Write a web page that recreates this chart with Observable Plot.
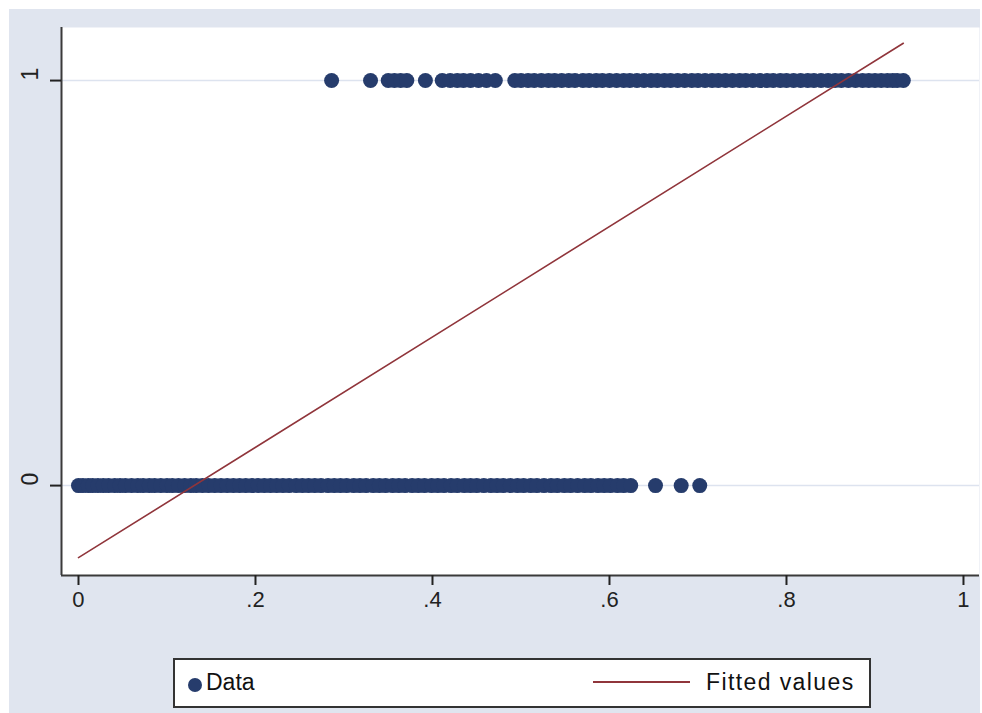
<!DOCTYPE html>
<html>
<head>
<meta charset="utf-8">
<script src="https://cdn.jsdelivr.net/npm/d3@7"></script>
<script src="https://cdn.jsdelivr.net/npm/@observablehq/plot@0.6"></script>
<style>
  html, body { margin: 0; padding: 0; background: #ffffff; }
  #page { position: relative; width: 982px; height: 713px; overflow: hidden; background: #ffffff; font-family: "Liberation Sans", Arial, sans-serif; }
  #bg { position: absolute; left: 9px; top: 9px; width: 971px; height: 704px; background: #e0e5ef; }
  #chart { position: absolute; left: 0; top: 0; }
  #legend { position: absolute; left: 173px; top: 658px; width: 694px; height: 46px; background: #ffffff; border: 2px solid #333333; }
  #legend .dot { position: absolute; left: 13px; top: 18px; width: 14px; height: 14px; border-radius: 50%; background: #263c6c; }
  #legend .lbl { position: absolute; top: 8px; font-size: 23px; color: #111111; line-height: 28px; white-space: nowrap; }
  #legend .ln { position: absolute; left: 418px; top: 21px; width: 97px; height: 2px; background: #90353b; }
</style>
</head>
<body>
<div id="page">
  <div id="bg"></div>
  <div id="chart"></div>
  <div id="legend">
    <div class="dot"></div>
    <div class="lbl" id="lblData" style="left:31px;"></div>
    <div class="ln"></div>
    <div class="lbl" id="lblFit" style="left:531px; letter-spacing:1.4px;"></div>
  </div>
</div>
<script>
// ---- data ----
const xTicks = [0, 0.2, 0.4, 0.6, 0.8, 1];
const xTickLabels = ["0", ".2", ".4", ".6", ".8", "1"];
const yTicks = [0, 1];
const yTickLabels = ["0", "1"];
const seriesNames = ["Data", "Fitted values"];

// observations with outcome = 0 (x values)
const xOutcome0 = [0, 0.005, 0.011, 0.016, 0.022, 0.028, 0.034, 0.041, 0.047, 0.053, 0.06, 0.067, 0.073, 0.08, 0.086, 0.093, 0.1, 0.106, 0.113, 0.12, 0.127, 0.133, 0.14, 0.147, 0.154, 0.161, 0.168, 0.175, 0.182, 0.189, 0.196, 0.203, 0.21, 0.217, 0.224, 0.231, 0.238, 0.246, 0.253, 0.26, 0.267, 0.274, 0.282, 0.289, 0.296, 0.303, 0.311, 0.318, 0.325, 0.333, 0.34, 0.347, 0.355, 0.362, 0.369, 0.377, 0.384, 0.391, 0.399, 0.406, 0.413, 0.421, 0.428, 0.436, 0.443, 0.45, 0.458, 0.466, 0.473, 0.48, 0.488, 0.496, 0.503, 0.511, 0.518, 0.526, 0.534, 0.541, 0.549, 0.556, 0.564, 0.572, 0.579, 0.587, 0.594, 0.601, 0.609, 0.616, 0.624, 0.652, 0.681, 0.702];

// observations with outcome = 1 (x values)
const xOutcome1 = [0.286, 0.330, 0.350, 0.357, 0.364, 0.371, 0.392, 0.411, 0.420, 0.428, 0.435, 0.443, 0.452, 0.461, 0.471, 0.493, 0.50, 0.508, 0.515, 0.523, 0.531, 0.538, 0.546, 0.554, 0.561, 0.57, 0.577, 0.585, 0.592, 0.6, 0.608, 0.616, 0.623, 0.631, 0.639, 0.647, 0.654, 0.662, 0.669, 0.677, 0.685, 0.693, 0.7, 0.708, 0.716, 0.723, 0.731, 0.739, 0.747, 0.754, 0.762, 0.77, 0.778, 0.785, 0.793, 0.8, 0.808, 0.816, 0.824, 0.831, 0.839, 0.847, 0.855, 0.862, 0.87, 0.878, 0.886, 0.893, 0.9, 0.907, 0.914, 0.92, 0.925, 0.932];

// fitted (linear probability) values at the extremes of x
const fitX = [0, 0.932];
const fitY = [-0.178, 1.092];

// ---- build ----
const points = [
  ...xOutcome0.map(x => ({x, y: 0})),
  ...xOutcome1.map(x => ({x, y: 1}))
];
const fit = fitX.map((x, i) => ({x, y: fitY[i]}));
const xDomain = [-0.0192, 1.0181];
const yDomain = [-0.222, 1.131];

const labelFor = (ticks, labels) => d => {
  const i = ticks.findIndex(t => Math.abs(t - d) < 1e-9);
  return i >= 0 ? labels[i] : "";
};

const chart = Plot.plot({
  width: 982,
  height: 640,
  marginLeft: 61,
  marginRight: 3,
  marginTop: 27,
  marginBottom: 65,
  x: {domain: xDomain},
  y: {domain: yDomain},
  style: {background: "transparent", fontFamily: "'Liberation Sans', Arial, sans-serif", color: "#222"},
  marks: [
    Plot.frame({fill: "#ffffff", stroke: null}),
    Plot.ruleY(yTicks, {stroke: "#dde3ef", strokeWidth: 1.5}),
    Plot.dot(points, {x: "x", y: "y", r: 7.5, fill: "#263c6c", stroke: null}),
    Plot.line(fit, {x: "x", y: "y", stroke: "#90353b", strokeWidth: 1.6}),
    Plot.ruleX([xDomain[0]], {stroke: "#3a3a3a", strokeWidth: 2}),
    Plot.ruleY([yDomain[0]], {stroke: "#3a3a3a", strokeWidth: 2}),
    Plot.axisX({ticks: xTicks, tickFormat: labelFor(xTicks, xTickLabels), tickSize: 10, tickPadding: 6, fontSize: 22, label: null, stroke: "#222", strokeWidth: 2}),
    Plot.axisY({ticks: yTicks, tickFormat: () => "", tickSize: 11, label: null, stroke: "#222", strokeWidth: 2}),
    Plot.text(yTicks, {y: d => d, frameAnchor: "left", dx: -31, rotate: -90, text: labelFor(yTicks, yTickLabels), fontSize: 23, fill: "#222"})
  ]
});
document.getElementById("chart").appendChild(chart);
document.getElementById("lblData").textContent = seriesNames[0];
document.getElementById("lblFit").textContent = seriesNames[1];
</script>
</body>
</html>
